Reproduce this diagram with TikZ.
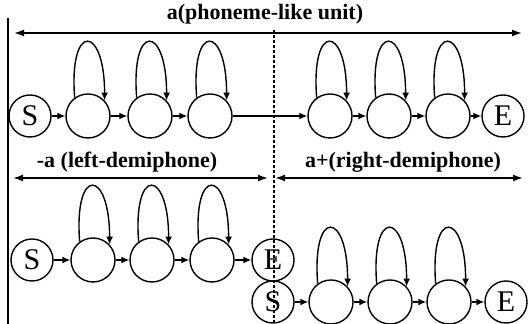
\documentclass[tikz,border=0pt]{standalone}
\usepackage{fontspec}
\setmainfont{Liberation Serif}
\usetikzlibrary{arrows.meta}
\tikzset{
  state/.style={draw,circle,line width=0.7pt,minimum size=22pt,inner sep=0pt},
  term/.style={state,minimum size=21pt,font=\fontsize{15}{15}\selectfont},
  trans/.style={-{Latex[length=4pt,width=3.5pt]},line width=0.7pt},
  selfloop/.style={trans},
  span/.style={{Latex[length=5pt,width=3.5pt]}-{Latex[length=5pt,width=3.5pt]},line width=0.8pt},
  unitlabel/.style={font=\bfseries\fontsize{11}{12}\selectfont,inner sep=1pt},
}

\begin{document}
\begin{tikzpicture}[x=0.5pt,y=0.5pt]
  \useasboundingbox (0,0) rectangle (528,324);
  % left border and the cut between the demiphones
  \coordinate (bordertop) at (8,306);
  \coordinate (borderbot) at (8,0);
  \coordinate (cuttop) at (274,294);
  \coordinate (cutbot) at (274,0);
  \draw[line width=0.8pt] (bordertop) -- (borderbot);
  \draw[line width=0.7pt,dash pattern=on 1.5pt off 1pt] (cuttop) -- (cutbot);
  % whole phoneme
  \coordinate (phL) at (14,291);
  \coordinate (phR) at (522,291);
  \draw[span] (phL) -- (phR);
  \node[unitlabel] (phlabel) at (265,310) {a(phoneme-like unit)};
  \node[term] (s1) at (30,208) {S};
  \foreach \n/\x in {a1/88,a2/150,a3/210,b1/330,b2/389,b3/448}
    \node[state] (\n) at (\x,208) {};
  \node[term] (e1) at (503,208) {E};
  \foreach \p/\q in {s1/a1,a1/a2,a2/a3,a3/b1,b1/b2,b2/b3,b3/e1}
    \draw[trans] (\p) -- (\q);
  \foreach \n in {a1,a2,a3,b1,b2,b3}
    \draw[selfloop] (\n.126) .. controls +(-6,76) and +(0,76) .. (\n.43);
  % left demiphone
  \coordinate (lfL) at (13,146);
  \coordinate (lfR) at (268,146);
  \draw[span] (lfL) -- (lfR);
  \node[unitlabel] (lflabel) at (127,162) {-a (left-demiphone)};
  \node[term] (s2) at (32,64) {S};
  \foreach \n/\x in {c1/93,c2/152,c3/212}
    \node[state] (\n) at (\x,64) {};
  \node[term] (e2) at (273,64) {E};
  \foreach \p/\q in {s2/c1,c1/c2,c2/c3,c3/e2}
    \draw[trans] (\p) -- (\q);
  \foreach \n in {c1,c2,c3}
    \draw[selfloop] (\n.126) .. controls +(-6,76) and +(0,76) .. (\n.43);
  % right demiphone
  \coordinate (rtL) at (275,146);
  \coordinate (rtR) at (523,146);
  \draw[span] (rtL) -- (rtR);
  \node[unitlabel] (rtlabel) at (403,162) {a+(right-demiphone)};
  \node[term] (s3) at (273,22) {S};
  \foreach \n/\x in {d1/331,d2/390,d3/449}
    \node[state] (\n) at (\x,22) {};
  \node[term] (e3) at (506,22) {E};
  \foreach \p/\q in {s3/d1,d1/d2,d2/d3,d3/e3}
    \draw[trans] (\p) -- (\q);
  \foreach \n in {d1,d2,d3}
    \draw[selfloop] (\n.126) .. controls +(-6,76) and +(0,76) .. (\n.43);
\end{tikzpicture}
\end{document}
